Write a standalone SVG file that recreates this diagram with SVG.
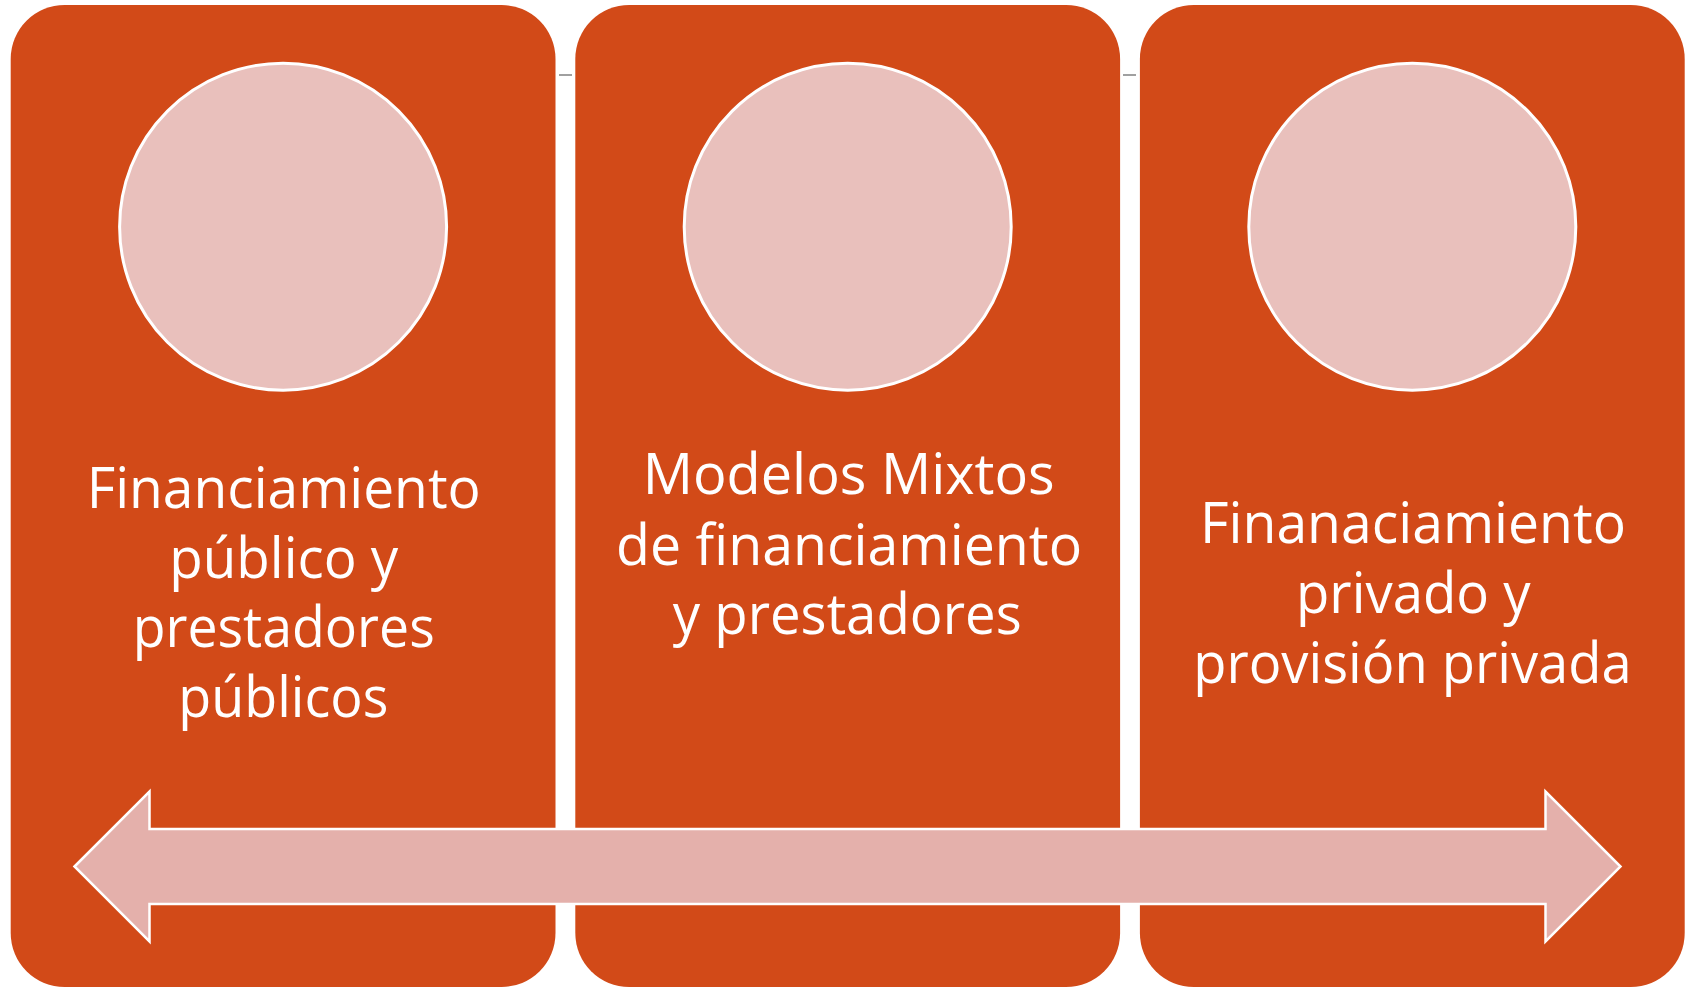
<svg xmlns="http://www.w3.org/2000/svg" width="1688" height="987" viewBox="0 0 1688 987">
<style>
.panel{fill:#D24A18;}
.disc{fill:#E9C0BC;stroke:#FFFFFF;stroke-width:3;}
.arrow{fill:#E4B0AB;stroke:#FFFFFF;stroke-width:2.5;stroke-linejoin:miter;}
.lbl{font-family:"Open Sans","Noto Sans",sans-serif;font-size:56px;fill:#FFFFFF;}
.stub{stroke:#A0A0A0;stroke-width:2;}
</style>
<rect width="1688" height="987" fill="#FFFFFF"/>
<g id="connectors">
<line class="stub" x1="559" y1="75" x2="572" y2="75"/>
<line class="stub" x1="1123" y1="75" x2="1136" y2="75"/>
</g>
<g id="node-publico">
<rect class="panel" x="10.7" y="5" width="544.8" height="982" rx="54" ry="54"/>
<circle class="disc" cx="283.1" cy="226.7" r="163.5"/>
<text class="lbl" x="86.7" y="507.7" textLength="394" lengthAdjust="spacingAndGlyphs">Financiamiento</text>
<text class="lbl" x="169.3" y="577.7" textLength="229" lengthAdjust="spacingAndGlyphs">público y</text>
<text class="lbl" x="132.7" y="647.3" textLength="302" lengthAdjust="spacingAndGlyphs">prestadores</text>
<text class="lbl" x="178.3" y="717.3" textLength="210" lengthAdjust="spacingAndGlyphs">públicos</text>
</g>
<g id="node-mixtos">
<rect class="panel" x="575.3" y="5" width="544.8" height="982" rx="54" ry="54"/>
<circle class="disc" cx="847.7" cy="226.7" r="163.5"/>
<text class="lbl" x="642.7" y="494" textLength="412" lengthAdjust="spacingAndGlyphs">Modelos Mixtos</text>
<text class="lbl" x="616" y="564.5" textLength="466" lengthAdjust="spacingAndGlyphs">de financiamiento</text>
<text class="lbl" x="672.7" y="633.5" textLength="349" lengthAdjust="spacingAndGlyphs">y prestadores</text>
</g>
<g id="node-privado">
<rect class="panel" x="1139.9" y="5" width="544.8" height="982" rx="54" ry="54"/>
<circle class="disc" cx="1412.3" cy="226.7" r="163.5"/>
<text class="lbl" x="1200" y="542.7" textLength="426" lengthAdjust="spacingAndGlyphs">Finanaciamiento</text>
<text class="lbl" x="1296" y="612.7" textLength="234.7" lengthAdjust="spacingAndGlyphs">privado y</text>
<text class="lbl" x="1193.3" y="683.3" textLength="438.3" lengthAdjust="spacingAndGlyphs">provisión privada</text>
</g>
<g id="node-arrow">
<polygon class="arrow" points="74.5,866.5 149.5,791.5 149.5,829 1545.5,829 1545.5,791.5 1620.5,866.5 1545.5,941.5 1545.5,904 149.5,904 149.5,941.5"/>
</g>
</svg>
